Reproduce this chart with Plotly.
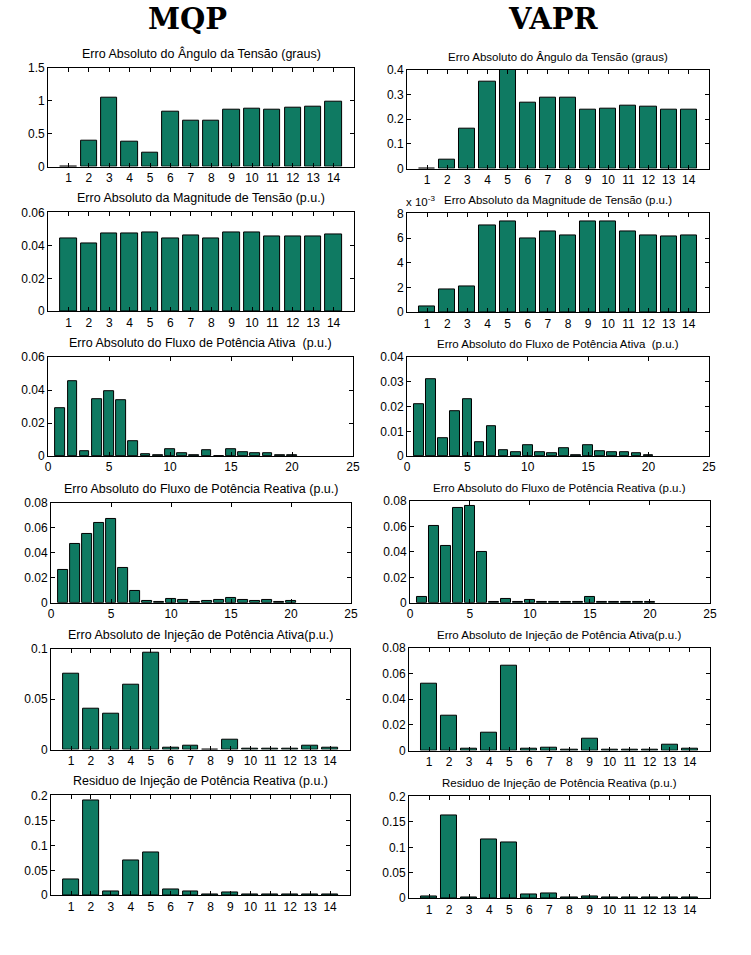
import plotly.graph_objects as go

# ---------------- data ----------------
bus = list(range(1, 15))
branch = list(range(1, 21))

mqp_ang = [0, 0.39, 1.04, 0.37, 0.21, 0.83, 0.69, 0.69, 0.87, 0.885, 0.87, 0.90, 0.915, 0.98]
vapr_ang = [0, 0.036, 0.161, 0.351, 0.40, 0.266, 0.286, 0.286, 0.238, 0.242, 0.254, 0.249, 0.238, 0.238]

mqp_mag = [0.0441, 0.0411, 0.0475, 0.0475, 0.0481, 0.0445, 0.0463, 0.0445, 0.0481, 0.0481, 0.0457, 0.0457, 0.0457, 0.0469]
vapr_mag_e3 = [0.51, 1.86, 2.10, 7.03, 7.36, 5.98, 6.55, 6.23, 7.36, 7.36, 6.55, 6.23, 6.15, 6.23]  # x 10^-3

mqp_pflow = [0.0288, 0.0453, 0.0028, 0.0348, 0.0391, 0.0342, 0.0089, 0.0010, 0.0006, 0.0042,
             0.0018, 0.0006, 0.0034, 0.0, 0.0042, 0.0024, 0.0018, 0.0018, 0.0006, 0.0006]
vapr_pflow = [0.0208, 0.0313, 0.0071, 0.0181, 0.0230, 0.0055, 0.0119, 0.0024, 0.0016, 0.0043,
              0.0016, 0.0011, 0.0032, 0.0004, 0.0043, 0.0020, 0.0016, 0.0016, 0.0012, 0.0004]

mqp_qflow = [0.0264, 0.0472, 0.0552, 0.0640, 0.0672, 0.0280, 0.0096, 0.0016, 0.0008, 0.0032,
             0.0024, 0.0008, 0.0016, 0.0024, 0.0040, 0.0024, 0.0016, 0.0024, 0.0008, 0.0016]
vapr_qflow = [0.0047, 0.0602, 0.0446, 0.0743, 0.0758, 0.0399, 0.0008, 0.0031, 0.0008, 0.0023,
              0.0008, 0.0008, 0.0008, 0.0008, 0.0047, 0.0008, 0.0008, 0.0008, 0.0008, 0.0008]

mqp_pinj = [0.0752, 0.0404, 0.0354, 0.0642, 0.0960, 0.0020, 0.0036, 0.0, 0.0096, 0.0010,
            0.0010, 0.0010, 0.0036, 0.0020]
vapr_pinj = [0.0519, 0.0268, 0.0013, 0.0136, 0.0659, 0.0013, 0.0021, 0.0008, 0.0091, 0.0008,
             0.0008, 0.0008, 0.0042, 0.0013]

mqp_qinj = [0.0327, 0.1907, 0.0073, 0.0707, 0.0867, 0.0107, 0.0073, 0.0020, 0.0047, 0.0020,
            0.0020, 0.0020, 0.0020, 0.0020]
vapr_qinj = [0.0033, 0.1635, 0.0020, 0.1147, 0.1088, 0.0072, 0.0091, 0.0020, 0.0033, 0.0020,
             0.0020, 0.0020, 0.0020, 0.0020]

titles = [
    "Erro Absoluto do Ângulo da Tensão (graus)",
    "Erro Absoluto da Magnitude de Tensão (p.u.)",
    "Erro Absoluto do Fluxo de Potência Ativa  (p.u.)",
    "Erro Absoluto do Fluxo de Potência Reativa (p.u.)",
    "Erro Absoluto de Injeção de Potência Ativa(p.u.)",
    "Residuo de Injeção de Potência Reativa (p.u.)",
]
col_headers = ["MQP", "VAPR"]

# ---------------- layout geometry (pixels) ----------------
W, H = 751, 955
S = 0.987          # compensation for the slight shrink seen in the rendered picture
CX, CY = W / 2, H / 2


def px_x(p):
    return (CX + (p - CX) / S) / W


def px_y(p):
    return 1 - (CY + (p - CY) / S) / H


BAR = "#0f7a62"

panels = [
    # (x, y, ymax, dtick, x0px, x1px, top, bottom, column, row, kind)
    (bus, mqp_ang, 1.5, 0.5, 50, 356, 67, 166, 0, 0, "bus"),
    (bus, vapr_ang, 0.4, 0.1, 409, 711, 69, 168, 1, 0, "bus"),
    (bus, mqp_mag, 0.06, 0.02, 50, 356, 212, 311, 0, 1, "bus"),
    (bus, vapr_mag_e3, 8, 2, 409, 711, 213, 312, 1, 1, "bus"),
    (branch, mqp_pflow, 0.06, 0.02, 50, 355, 357, 456, 0, 2, "branch"),
    (branch, vapr_pflow, 0.04, 0.01, 409, 711, 357, 456, 1, 2, "branch"),
    (branch, mqp_qflow, 0.08, 0.02, 53, 353, 503, 603, 0, 3, "branch"),
    (branch, vapr_qflow, 0.08, 0.02, 412, 712, 501, 603, 1, 3, "branch"),
    (bus, mqp_pinj, 0.1, 0.05, 53, 352, 649, 750, 0, 4, "bus"),
    (bus, vapr_pinj, 0.08, 0.02, 411, 712, 648, 751, 1, 4, "bus"),
    (bus, mqp_qinj, 0.2, 0.05, 53, 352, 796, 896, 0, 5, "bus"),
    (bus, vapr_qinj, 0.2, 0.05, 411, 712, 797, 899, 1, 5, "bus"),
]

fig = go.Figure()
annotations = []
layout_axes = {}
TICKFONT = dict(family="Liberation Sans, Arial, sans-serif", size=12, color="black")

for i, (xs, ys, ymax, dt, x0, x1, top, bot, col, row, kind) in enumerate(panels):
    n = i + 1
    xa = "x" if n == 1 else f"x{n}"
    ya = "y" if n == 1 else f"y{n}"
    fig.add_trace(go.Bar(
        x=xs, y=ys, xaxis=xa, yaxis=ya, width=0.8,
        marker=dict(color=BAR, line=dict(color="black", width=1)),
        showlegend=False, hoverinfo="x+y",
    ))
    xdom = [px_x(x0), px_x(x1)]
    ydom = [px_y(bot), px_y(top)]
    xkey = "xaxis" if n == 1 else f"xaxis{n}"
    ykey = "yaxis" if n == 1 else f"yaxis{n}"
    if kind == "bus":
        xaxis = dict(range=[0, 15], tickmode="array", tickvals=bus,
                     ticktext=[str(b) for b in bus])
    else:
        xaxis = dict(range=[0, 25], tickmode="linear", tick0=0, dtick=5)
    xaxis.update(domain=xdom, anchor=ya, showline=True, linecolor="black", linewidth=1,
                 mirror="ticks", ticks="inside", ticklen=4, tickcolor="black",
                 showgrid=False, zeroline=False, tickfont=TICKFONT, fixedrange=True)
    yaxis = dict(domain=ydom, anchor=xa, range=[0, ymax], tickmode="linear", tick0=0, dtick=dt,
                 showline=True, linecolor="black", linewidth=1, mirror="ticks",
                 ticks="inside", ticklen=4, tickcolor="black", showgrid=False,
                 zeroline=False, tickfont=TICKFONT, fixedrange=True)
    layout_axes[xkey] = xaxis
    layout_axes[ykey] = yaxis
    annotations.append(dict(
        text=titles[row], x=px_x((x0 + x1) / 2), y=px_y(top - 5),
        xref="paper", yref="paper", xanchor="center", yanchor="bottom",
        showarrow=False,
        font=dict(family="Liberation Sans, Arial, sans-serif",
                  size=12.5 if col == 0 else 11.5, color="black"),
    ))

# scale factor note for VAPR magnitude panel
annotations.append(dict(
    text="x 10<sup>-3</sup>", x=px_x(406), y=px_y(210), xref="paper", yref="paper",
    xanchor="left", yanchor="bottom", showarrow=False,
    font=dict(family="Liberation Sans, Arial, sans-serif", size=11.5, color="black"),
))

# column headers
for hdr, cx in zip(col_headers, [189, 556]):
    annotations.append(dict(
        text=f"<b>{hdr}</b>", x=px_x(cx), y=px_y(18), xref="paper", yref="paper",
        xanchor="center", yanchor="middle", showarrow=False,
        font=dict(family="DejaVu Serif, serif", size=29, color="black"),
    ))

fig.update_layout(
    width=W, height=H, margin=dict(l=0, r=0, t=0, b=0),
    paper_bgcolor="white", plot_bgcolor="white",
    annotations=annotations, bargap=0, **layout_axes,
)

fig.write_html(
    "out.html",
    config={"displayModeBar": False},
    post_script="document.body.style.margin='0';document.body.style.padding='0';"
                "document.body.style.overflow='hidden';",
)
